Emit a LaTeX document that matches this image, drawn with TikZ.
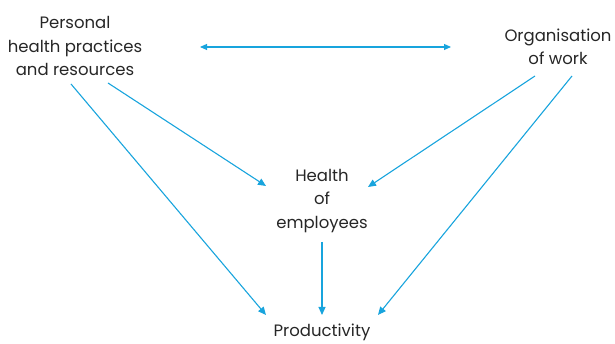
\documentclass[tikz,border=0pt]{standalone}
\usepackage{fontspec}
\setmainfont{Poppins}
\usetikzlibrary{arrows.meta}
\definecolor{arrowblue}{HTML}{18A4DD}
\tikzset{
  lbl/.style={align=center, inner sep=0pt, font=\fontsize{16.5}{23.5}\selectfont, text=black!85},
  conn/.style={draw=arrowblue, line width=1.1pt, -{Triangle[length=8pt,width=7pt]}},
}
\begin{document}
\begin{tikzpicture}[x=1pt,y=1pt]
\useasboundingbox (0,0) rectangle (615,344);
\node[lbl] (pers) at (75,298) {Personal\\health practices\\and resources};
\node[lbl] (org) at (558,297) {Organisation\\of work};
\node[lbl] (hea) at (322,143) {Health\\of\\employees};
\node[lbl] (prod) at (322,12) {Productivity};
\coordinate (dl) at (200,297);
\coordinate (dr) at (451,297);
\coordinate (p1) at (71,260);
\coordinate (p2) at (108,261);
\coordinate (o1) at (535,268);
\coordinate (o2) at (572,268);
\coordinate (hl) at (266,158);
\coordinate (hr) at (368,157);
\coordinate (hb) at (322,102);
\coordinate (ql) at (266,29);
\coordinate (qm) at (322,29);
\coordinate (qr) at (378,29);
\draw[conn, {Triangle[length=7pt,width=6pt]}-{Triangle[length=7pt,width=6pt]}] (dl) -- (dr);
\draw[conn] (p1) -- (ql);
\draw[conn] (p2) -- (hl);
\draw[conn] (o1) -- (hr);
\draw[conn] (o2) -- (qr);
\draw[conn] (hb) -- (qm);
\end{tikzpicture}
\end{document}
